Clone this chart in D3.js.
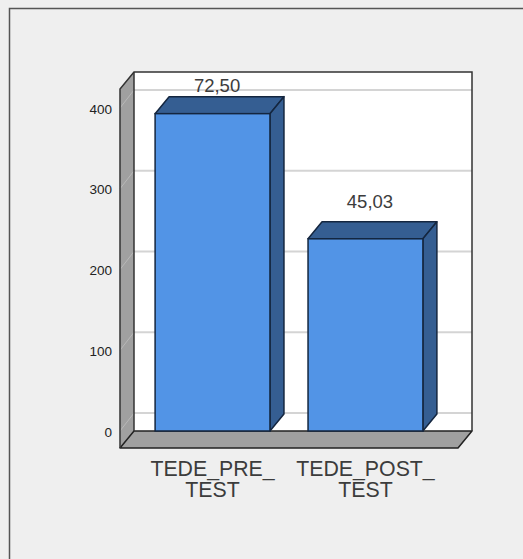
<!DOCTYPE html>
<html>
<head>
<meta charset="utf-8">
<script src="https://cdn.jsdelivr.net/npm/d3@7"></script>
<style>
  html, body { margin: 0; padding: 0; background: #efefef; }
  svg { display: block; }
  text { font-family: "Liberation Sans", Arial, sans-serif; fill: #3c3c3c; }
  .tick-label { fill: #222; }
</style>
</head>
<body>
<div id="chart"></div>
<script>
var categories = [["TEDE_PRE_", "TEST"], ["TEDE_POST_", "TEST"]];
var barHeights = [393, 238];
var barLabels = ["72,50", "45,03"];
var yTicks = [0, 100, 200, 300, 400];

var width = 523, height = 559;
var depthX = 14, depthY = 17;

var svg = d3.select("#chart").append("svg")
  .attr("width", width)
  .attr("height", height);

// frame
svg.append("path")
  .attr("d", d3.line()([[9.5, height], [9.5, 8.5], [width, 8.5]]))
  .attr("fill", "none")
  .attr("stroke", "#555")
  .attr("stroke-width", 1.5);

// front plane scales
var xScale = d3.scaleBand()
  .domain(d3.range(categories.length))
  .range([120, 458])
  .paddingInner(0.249)
  .paddingOuter(0.2295);

var yScale = d3.scaleLinear()
  .domain([0, 400])
  .range([431, 108]);

var left = xScale.range()[0], right = xScale.range()[1];
var base = yScale(0), plotTop = 72;

var poly = function (pts) { return "M" + pts.join("L") + "Z"; };

// back wall
svg.append("rect")
  .attr("x", left + depthX)
  .attr("y", plotTop)
  .attr("width", right - left)
  .attr("height", base - plotTop)
  .attr("fill", "#fff");

// side wall
svg.append("path")
  .attr("d", poly([[left, plotTop + depthY], [left + depthX, plotTop], [left + depthX, base], [left, base + depthY]]))
  .attr("fill", "#a0a0a0");

// gridlines
var grid = svg.append("g").selectAll("g")
  .data(yTicks).enter()
  .append("g");

grid.append("line")
  .attr("x1", left + depthX)
  .attr("x2", right + depthX)
  .attr("y1", function (d) { return yScale(d) - depthY - 1; })
  .attr("y2", function (d) { return yScale(d) - depthY - 1; })
  .attr("stroke", "#d4d4d4")
  .attr("stroke-width", 2);

grid.append("line")
  .attr("x1", left)
  .attr("x2", left + depthX)
  .attr("y1", function (d) { return yScale(d); })
  .attr("y2", function (d) { return yScale(d) - depthY - 1; })
  .attr("stroke", "#b8b8b8")
  .attr("stroke-width", 1);

// floor
svg.append("path")
  .attr("d", poly([[left, base + depthY], [left + depthX, base], [right + depthX, base], [right, base + depthY]]))
  .attr("fill", "#a0a0a0")
  .attr("stroke", "#222")
  .attr("stroke-width", 1.5)
  .attr("stroke-linejoin", "round");

// wall outline
svg.append("path")
  .attr("d", d3.line()([[left, base + depthY], [left, plotTop + depthY], [left + depthX, plotTop], [right + depthX, plotTop], [right + depthX, base]]))
  .attr("fill", "none")
  .attr("stroke", "#333")
  .attr("stroke-width", 1.5);

svg.append("line")
  .attr("x1", left + depthX).attr("x2", left + depthX)
  .attr("y1", plotTop).attr("y2", base)
  .attr("stroke", "#333")
  .attr("stroke-width", 1.5);

// y tick labels
svg.append("g").selectAll("text")
  .data(yTicks).enter()
  .append("text")
  .attr("class", "tick-label")
  .attr("x", 112)
  .attr("y", function (d) { return yScale(d) + 5.5; })
  .attr("text-anchor", "end")
  .style("font-size", "13.5px")
  .text(function (d) { return d; });

// bars
var bars = svg.append("g").selectAll("g")
  .data(barHeights).enter()
  .append("g");

var barStroke = "#14263f";

bars.append("path")
  .attr("d", function (d, i) {
    var x0 = xScale(i), x1 = x0 + xScale.bandwidth(), y0 = yScale(d);
    return poly([[x0, y0], [x0 + depthX, y0 - depthY], [x1 + depthX, y0 - depthY], [x1, y0]]);
  })
  .attr("fill", "#355e92")
  .attr("stroke", barStroke)
  .attr("stroke-width", 1.5)
  .attr("stroke-linejoin", "round");

bars.append("path")
  .attr("d", function (d, i) {
    var x1 = xScale(i) + xScale.bandwidth(), y0 = yScale(d);
    return poly([[x1, y0], [x1 + depthX, y0 - depthY], [x1 + depthX, base - depthY], [x1, base]]);
  })
  .attr("fill", "#355e92")
  .attr("stroke", barStroke)
  .attr("stroke-width", 1.5)
  .attr("stroke-linejoin", "round");

bars.append("rect")
  .attr("x", function (d, i) { return xScale(i); })
  .attr("y", function (d) { return yScale(d); })
  .attr("width", xScale.bandwidth())
  .attr("height", function (d) { return base - yScale(d); })
  .attr("fill", "#5294e6")
  .attr("stroke", barStroke)
  .attr("stroke-width", 1.5);

// the label of a tall bar is kept inside the wall
bars.append("text")
  .attr("x", function (d, i) { return xScale(i) + xScale.bandwidth() / 2 + 4.5; })
  .attr("y", function (d) { return Math.max(yScale(d) - 31, plotTop + 20); })
  .attr("text-anchor", "middle")
  .style("font-size", "18.5px")
  .text(function (d, i) { return barLabels[i]; });

// category labels, the second line sits tight under the first as in the original
var cats = svg.append("g").selectAll("text")
  .data(categories).enter()
  .append("text")
  .attr("text-anchor", "middle")
  .style("font-size", "21.3px");

cats.selectAll("tspan")
  .data(function (d, i) { return d.map(function (s) { return { s: s, i: i }; }); }).enter()
  .append("tspan")
  .attr("x", function (d) { return xScale(d.i) + xScale.bandwidth() / 2; })
  .attr("y", function (d, j) { return 476 + j * 21; })
  .text(function (d) { return d.s; });
</script>
</body>
</html>
